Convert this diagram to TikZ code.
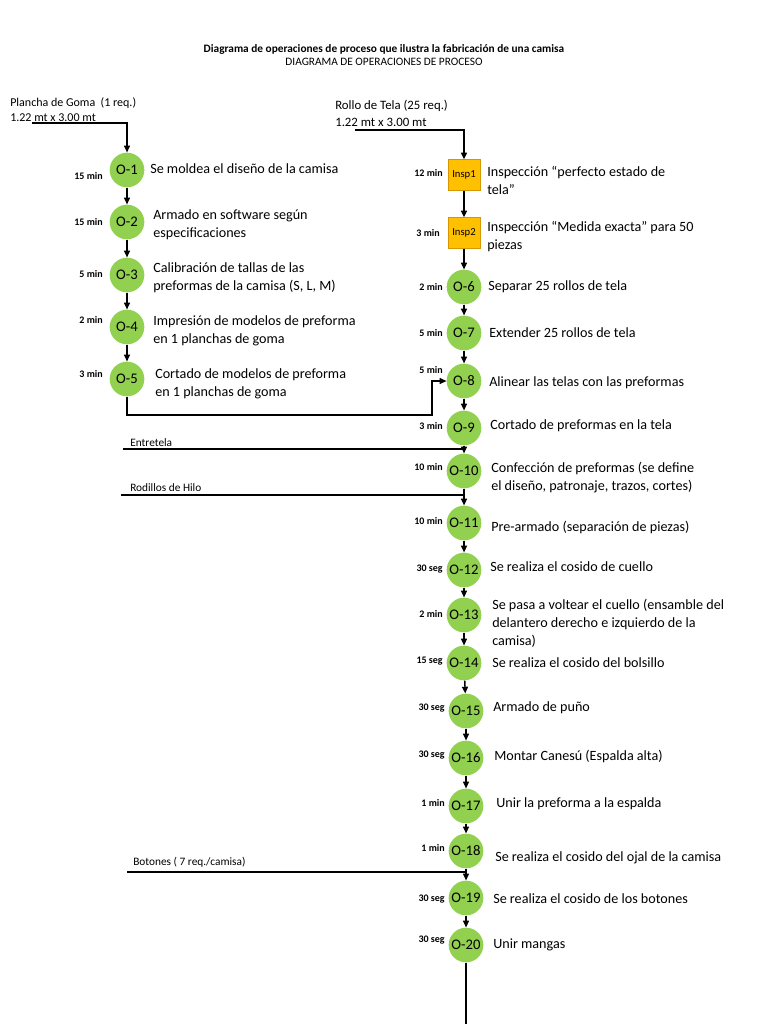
\documentclass[tikz,border=0pt]{standalone}
\usepackage{fontspec}
\setmainfont{Carlito}
\usetikzlibrary{arrows.meta}
\definecolor{opgreen}{RGB}{146,208,80}
\definecolor{inspgold}{RGB}{255,192,0}
\definecolor{inspedge}{RGB}{214,150,0}
\begin{document}
\begin{tikzpicture}[x=0.75pt, y=-0.75pt,
    op/.style={circle, fill=opgreen, minimum size=26pt, inner sep=0pt, font=\fontsize{11}{11}\selectfont},
    insp/.style={draw=inspedge, fill=inspgold, line width=0.6pt, minimum width=24pt, minimum height=23pt, inner sep=0pt, font=\fontsize{8}{8}\selectfont},
    desc/.style={anchor=west, align=left, inner sep=0pt, font=\fontsize{10.6}{13.5}\selectfont},
    tlab/.style={anchor=east, inner sep=0pt, font=\fontsize{7.5}{7.5}\selectfont\bfseries},
    src/.style={anchor=west, align=left, inner sep=0pt, font=\fontsize{8.5}{12}\selectfont},
    flow/.style={line width=1.1pt, -{Triangle[length=5pt,width=4.5pt]}},
    feed/.style={line width=1.1pt}]
  \useasboundingbox (0,0) rectangle (768,1024);
  % title
  \node[font=\fontsize{8.5}{10}\selectfont\bfseries] (title) at (384,49) {Diagrama de operaciones de proceso que ilustra la fabricación de una camisa};
  \node[font=\fontsize{8.5}{10}\selectfont] (subtitle) at (384,62) {DIAGRAMA DE OPERACIONES DE PROCESO};
  % materials
  \node[src, font=\fontsize{9}{11.3}\selectfont] (goma) at (10,110) {Plancha de Goma\ \ (1 req.)\\1.22 mt x 3.00 mt};
  \node[src, font=\fontsize{9.6}{12.8}\selectfont] (tela) at (335,113.5) {Rollo de Tela (25 req.)\\1.22 mt x 3.00 mt};
  \node[src] (entretela) at (130,443) {Entretela};
  \node[src] (hilo) at (130,488) {Rodillos de Hilo};
  \node[src] (botones) at (133,862) {Botones ( 7 req./camisa)};
  % left column
  \foreach \n/\y/\ty/\t in {1/170/176/15 min, 2/222/222/15 min, 3/275/274/5 min, 4/327/320/2 min, 5/379/374/3 min} {
    \node[op] (o\n) at (127,\y) {O-\n};
    \node[tlab] (t\n) at (103,\ty) {\t};
  }
  % right column
  \node[insp] (insp1) at (464,175) {Insp1};
  \node[tlab] (ti1) at (443,173) {12 min};
  \node[insp] (insp2) at (464,233) {Insp2};
  \node[tlab] (ti2) at (440,233) {3 min};
  \foreach \n/\x/\y/\ty/\t in {6/464/287/287/2 min, 7/464/333/333/5 min, 8/464/381/370/5 min, 9/464/428/426/3 min,
      10/464/471/467/10 min, 11/464/523/521/10 min, 12/464/570/569/30 seg, 13/464/615/614/2 min, 14/464/663/661/15 seg,
      15/466/711/708/30 seg, 16/466/758/755/30 seg, 17/466/806/803/1 min, 18/466/851/848/1 min, 19/466/898/899/30 seg,
      20/466/945/940/30 seg} {
    \node[op] (o\n) at (\x,\y) {O-\n};
    \node[tlab] (t\n) at (\x-21,\ty) {\t};
  }
  % descriptions
  \node[desc] (d1) at (150,169) {Se moldea el diseño de la camisa};
  \node[desc] (d2) at (153,225) {Armado en software según\\especificaciones};
  \node[desc] (d3) at (153,277.5) {Calibración de tallas de las\\preformas de la camisa (S, L, M)};
  \node[desc] (d4) at (153,331) {Impresión de modelos de preforma\\en 1 planchas de goma};
  \node[desc] (d5) at (155,384) {Cortado de modelos de preforma\\en 1 planchas de goma};
  \node[desc] (di1) at (487,180) {Inspección “perfecto estado de\\tela”};
  \node[desc] (di2) at (487,237) {Inspección “Medida exacta” para 50\\piezas};
  \node[desc] (d6) at (488,287) {Separar 25 rollos de tela};
  \node[desc] (d7) at (489,333) {Extender 25 rollos de tela};
  \node[desc] (d8) at (489,383) {Alinear las telas con las preformas};
  \node[desc] (d9) at (490,426) {Cortado de preformas en la tela};
  \node[desc] (d10) at (491,478) {Confección de preformas (se define\\el diseño, patronaje, trazos, cortes)};
  \node[desc] (d11) at (491,527) {Pre-armado (separación de piezas)};
  \node[desc] (d12) at (490,567) {Se realiza el cosido de cuello};
  \node[desc] (d13) at (492,623) {Se pasa a voltear el cuello (ensamble del\\delantero derecho e izquierdo de la\\camisa)};
  \node[desc] (d14) at (492,663) {Se realiza el cosido del bolsillo};
  \node[desc] (d15) at (493,708) {Armado de puño};
  \node[desc] (d16) at (494,756) {Montar Canesú (Espalda alta)};
  \node[desc] (d17) at (496,804) {Unir la preforma a la espalda};
  \node[desc] (d18) at (495,858) {Se realiza el cosido del ojal de la camisa};
  \node[desc] (d19) at (493,899) {Se realiza el cosido de los botones};
  \node[desc] (d20) at (493,945) {Unir mangas};
  % connectors
  \coordinate (gomaIn) at (32,123);
  \coordinate (telaIn) at (355,130);
  \coordinate (jog) at (432,415);
  \coordinate (entIn) at (123,449);
  \coordinate (hiloIn) at (121,495);
  \coordinate (botIn) at (127,872);
  \coordinate (finEnd) at (466,1024);
  \draw[flow] (gomaIn) -| (o1);
  \draw[flow] (telaIn) -| (insp1);
  \foreach \a/\b in {o1/o2, o2/o3, o3/o4, o4/o5, insp1/insp2, insp2/o6, o6/o7, o7/o8, o8/o9, o9/o10, o10/o11,
      o11/o12, o12/o13, o13/o14, o14/o15, o15/o16, o16/o17, o17/o18, o18/o19, o19/o20}
    \draw[flow] (\a) -- (\b);
  \draw[flow] (o5.south) |- (jog) |- (o8);
  \draw[feed] (entIn) -- (entIn -| o9);
  \draw[feed] (hiloIn) -- (hiloIn -| o10);
  \draw[feed] (botIn) -- (botIn -| o18);
  \draw[feed] (o20) -- (finEnd);
\end{tikzpicture}
\end{document}
